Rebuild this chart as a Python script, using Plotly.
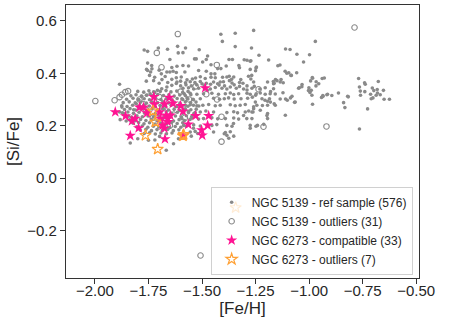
import plotly.graph_objects as go

# ---------------- data ----------------
# NGC 5139 reference sample: ([Fe/H], [Si/Fe])
ref_sample = [
    # sparse upper part
    (-1.770, 0.489), (-1.754, 0.484), (-1.704, 0.497), (-1.661, 0.492), (-1.614, 0.503),
    (-1.611, 0.478), (-1.650, 0.453), (-1.754, 0.439), (-1.735, 0.430), (-1.412, 0.549),
    (-1.345, 0.553), (-1.259, 0.564), (-1.405, 0.522), (-1.345, 0.502), (-1.269, 0.497),
    (-1.513, 0.490), (-1.577, 0.497), (-1.589, 0.479), (-1.234, 0.469), (-1.189, 0.451),
    (-1.474, 0.466), (-1.480, 0.453), (-1.535, 0.455), (-1.527, 0.455), (-1.497, 0.443),
    (-1.374, 0.453), (-1.358, 0.453), (-1.303, 0.452), (-1.290, 0.450), (-1.272, 0.448),
    (-1.146, 0.429), (-1.275, 0.446), (-1.136, 0.432), (-1.458, 0.433),
    # band 0.40 - 0.44
    (-1.759, 0.415), (-1.734, 0.417), (-1.641, 0.422), (-1.617, 0.427), (-1.664, 0.405),
    (-1.650, 0.405), (-1.635, 0.408), (-1.620, 0.403), (-1.387, 0.428), (-1.328, 0.430),
    (-1.325, 0.421), (-1.275, 0.415), (-1.248, 0.420), (-1.589, 0.430), (-1.580, 0.405),
    (-1.563, 0.428), (-1.516, 0.411), (-1.480, 0.408), (-1.458, 0.398), (-1.440, 0.398),
    (-1.427, 0.418), (-1.412, 0.418), (-1.246, 0.424), (-1.250, 0.410), (-1.754, 0.411),
    (-1.740, 0.405), (-1.700, 0.412), (-1.690, 0.398),
    # band 0.36 - 0.40
    (-1.885, 0.358), (-1.721, 0.385), (-1.726, 0.372), (-1.687, 0.376), (-1.641, 0.377),
    (-1.620, 0.383), (-1.617, 0.367), (-1.508, 0.387), (-1.485, 0.380), (-1.458, 0.385),
    (-1.438, 0.383), (-1.404, 0.385), (-1.384, 0.386), (-1.373, 0.389), (-1.352, 0.386),
    (-1.319, 0.376), (-1.283, 0.389), (-1.272, 0.378), (-1.570, 0.375), (-1.545, 0.378),
    (-1.530, 0.382), (-1.500, 0.360), (-1.480, 0.362), (-1.460, 0.358), (-1.427, 0.360),
    (-1.400, 0.368), (-1.372, 0.372), (-1.362, 0.377), (-1.600, 0.370), (-1.597, 0.386),
    (-1.268, 0.392), (-1.577, 0.364), (-1.555, 0.368), (-1.533, 0.365), (-1.508, 0.369),
    (-1.446, 0.367), (-1.415, 0.367), (-1.360, 0.363), (-1.325, 0.365), (-1.309, 0.362),
    (-1.290, 0.352), (-1.259, 0.367), (-1.194, 0.367), (-1.166, 0.360), (-1.700, 0.362),
    (-1.672, 0.388), (-1.660, 0.365), (-1.760, 0.370), (-1.745, 0.392),
    # band 0.33 - 0.36
    (-1.589, 0.343), (-1.563, 0.345), (-1.539, 0.340), (-1.516, 0.343), (-1.461, 0.340),
    (-1.438, 0.346), (-1.407, 0.343), (-1.384, 0.340), (-1.368, 0.348), (-1.340, 0.343),
    (-1.306, 0.340), (-1.267, 0.343), (-1.256, 0.350), (-1.166, 0.341), (-1.708, 0.335),
    (-1.688, 0.341), (-1.664, 0.348), (-1.641, 0.354), (-1.620, 0.361), (-1.742, 0.322),
    (-1.760, 0.316), (-1.781, 0.312), (-1.796, 0.299), (-1.807, 0.284), (-1.819, 0.261),
    (-1.843, 0.236), (-1.726, 0.329), (-1.490, 0.352), (-1.475, 0.335), (-1.420, 0.355),
    (-1.395, 0.352), (-1.350, 0.356), (-1.325, 0.350), (-1.290, 0.336), (-1.600, 0.352),
    (-1.575, 0.356), (-1.550, 0.352), (-1.525, 0.356),
    # mid zone (zoom rows)
    (-1.583, 0.322), (-1.555, 0.324), (-1.524, 0.320), (-1.493, 0.322), (-1.454, 0.324),
    (-1.423, 0.320), (-1.391, 0.322), (-1.368, 0.325), (-1.352, 0.319), (-1.329, 0.322),
    (-1.290, 0.324), (-1.275, 0.320), (-1.247, 0.322), (-1.228, 0.325), (-1.205, 0.320),
    (-1.182, 0.322), (-1.158, 0.321), (-1.594, 0.303), (-1.570, 0.306), (-1.542, 0.301),
    (-1.508, 0.303), (-1.446, 0.305), (-1.418, 0.301), (-1.396, 0.303), (-1.376, 0.306),
    (-1.350, 0.302), (-1.318, 0.303), (-1.287, 0.305), (-1.220, 0.303), (-1.185, 0.303),
    (-1.135, 0.302), (-1.578, 0.278), (-1.555, 0.280), (-1.524, 0.276), (-1.496, 0.278),
    (-1.469, 0.281), (-1.438, 0.276), (-1.415, 0.278), (-1.368, 0.280), (-1.345, 0.276),
    (-1.322, 0.278), (-1.298, 0.281), (-1.259, 0.272), (-1.244, 0.278), (-1.194, 0.278),
    (-1.158, 0.278), (-1.586, 0.252), (-1.563, 0.255), (-1.532, 0.250), (-1.508, 0.252),
    (-1.482, 0.256), (-1.446, 0.252), (-1.384, 0.250), (-1.352, 0.253), (-1.334, 0.249),
    (-1.298, 0.252), (-1.282, 0.256), (-1.267, 0.252), (-1.594, 0.227), (-1.547, 0.229),
    (-1.516, 0.225), (-1.493, 0.227), (-1.454, 0.230), (-1.427, 0.226), (-1.391, 0.227),
    (-1.352, 0.229), (-1.329, 0.225), (-1.267, 0.227), (-1.194, 0.227), (-1.111, 0.240),
    (-1.586, 0.201), (-1.539, 0.203), (-1.508, 0.199), (-1.454, 0.201), (-1.431, 0.204),
    (-1.384, 0.201), (-1.360, 0.198), (-1.275, 0.201), (-1.241, 0.201), (-1.555, 0.176),
    (-1.532, 0.178), (-1.446, 0.176), (-1.391, 0.174), (-1.368, 0.177), (-1.384, 0.163),
    (-1.352, 0.160), (-1.396, 0.169), (-1.375, 0.152), (-1.353, 0.208), (-1.306, 0.239),
    (-1.291, 0.227), (-1.259, 0.265), (-1.228, 0.259), (-1.197, 0.239), (-1.265, 0.309),
    (-1.250, 0.316), (-1.251, 0.290), (-1.206, 0.297), (-1.194, 0.293), (-1.181, 0.290),
    (-1.163, 0.284), (-1.218, 0.277), (-1.262, 0.252), (-1.194, 0.246), (-1.248, 0.198),
    (-1.212, 0.205), (-1.275, 0.190), (-1.230, 0.340), (-1.205, 0.345), (-1.180, 0.330),
    # dense core
    (-1.800, 0.331), (-1.772, 0.328), (-1.748, 0.333), (-1.721, 0.327), (-1.695, 0.331),
    (-1.668, 0.334), (-1.645, 0.329), (-1.618, 0.332), (-1.590, 0.327), (-1.565, 0.331),
    (-1.832, 0.314), (-1.808, 0.318), (-1.783, 0.313), (-1.757, 0.317), (-1.733, 0.314),
    (-1.707, 0.319), (-1.680, 0.315), (-1.655, 0.318), (-1.630, 0.313), (-1.604, 0.317),
    (-1.578, 0.315), (-1.552, 0.318), (-1.852, 0.301), (-1.822, 0.305), (-1.796, 0.300),
    (-1.770, 0.303), (-1.745, 0.299), (-1.718, 0.304), (-1.692, 0.300), (-1.667, 0.303),
    (-1.641, 0.299), (-1.616, 0.304), (-1.590, 0.300), (-1.566, 0.302), (-1.540, 0.299),
    (-1.868, 0.288), (-1.840, 0.291), (-1.812, 0.287), (-1.786, 0.290), (-1.760, 0.286),
    (-1.735, 0.291), (-1.708, 0.288), (-1.683, 0.291), (-1.656, 0.287), (-1.630, 0.290),
    (-1.603, 0.286), (-1.578, 0.291), (-1.553, 0.288), (-1.528, 0.290), (-1.875, 0.276),
    (-1.850, 0.273), (-1.824, 0.278), (-1.798, 0.274), (-1.772, 0.278), (-1.746, 0.275),
    (-1.720, 0.272), (-1.696, 0.277), (-1.670, 0.274), (-1.644, 0.278), (-1.618, 0.273),
    (-1.592, 0.277), (-1.566, 0.274), (-1.540, 0.278), (-1.515, 0.275), (-1.862, 0.262),
    (-1.836, 0.265), (-1.810, 0.260), (-1.784, 0.263), (-1.758, 0.259), (-1.733, 0.264),
    (-1.707, 0.261), (-1.681, 0.265), (-1.656, 0.260), (-1.630, 0.263), (-1.604, 0.259),
    (-1.578, 0.264), (-1.552, 0.261), (-1.527, 0.263), (-1.872, 0.249), (-1.846, 0.252),
    (-1.820, 0.247), (-1.794, 0.251), (-1.769, 0.248), (-1.744, 0.252), (-1.718, 0.246),
    (-1.692, 0.250), (-1.667, 0.253), (-1.641, 0.248), (-1.615, 0.251), (-1.590, 0.247),
    (-1.563, 0.250), (-1.538, 0.246), (-1.855, 0.236), (-1.829, 0.233), (-1.804, 0.238),
    (-1.778, 0.234), (-1.752, 0.237), (-1.727, 0.233), (-1.701, 0.238), (-1.676, 0.235),
    (-1.650, 0.232), (-1.624, 0.237), (-1.598, 0.234), (-1.573, 0.238), (-1.548, 0.235),
    (-1.838, 0.222), (-1.812, 0.219), (-1.787, 0.224), (-1.762, 0.220), (-1.736, 0.223),
    (-1.710, 0.219), (-1.684, 0.224), (-1.659, 0.221), (-1.633, 0.218), (-1.607, 0.223),
    (-1.582, 0.220), (-1.556, 0.224), (-1.822, 0.209), (-1.796, 0.212), (-1.771, 0.207),
    (-1.745, 0.211), (-1.719, 0.206), (-1.693, 0.210), (-1.668, 0.207), (-1.642, 0.212),
    (-1.616, 0.208), (-1.590, 0.211), (-1.565, 0.207), (-1.804, 0.196), (-1.779, 0.199),
    (-1.753, 0.194), (-1.727, 0.198), (-1.702, 0.195), (-1.676, 0.199), (-1.651, 0.193),
    (-1.625, 0.197), (-1.599, 0.194), (-1.574, 0.198), (-1.788, 0.183), (-1.762, 0.186),
    (-1.736, 0.181), (-1.710, 0.185), (-1.685, 0.182), (-1.660, 0.186), (-1.634, 0.181),
    (-1.608, 0.184), (-1.770, 0.170), (-1.745, 0.173), (-1.718, 0.168), (-1.692, 0.172),
    (-1.666, 0.169), (-1.640, 0.172),
    # sparse lower edge
    (-1.750, 0.144), (-1.835, 0.134), (-1.667, 0.106), (-1.633, 0.131), (-1.698, 0.159),
    (-1.720, 0.145), (-1.800, 0.150), (-1.610, 0.150), (-1.550, 0.160), (-1.520, 0.170),
    (-1.540, 0.190), (-1.885, 0.252), (-1.866, 0.246), (-1.882, 0.223), (-1.854, 0.218),
    (-1.874, 0.271),
    # right-hand group
    (-1.112, 0.408), (-1.104, 0.400), (-1.095, 0.402), (-1.157, 0.376), (-1.167, 0.369),
    (-1.163, 0.362), (-1.121, 0.364), (-1.122, 0.326), (-1.110, 0.302), (-1.087, 0.306),
    (-1.068, 0.289), (-1.049, 0.343), (-1.034, 0.349), (-0.993, 0.371), (-0.984, 0.381),
    (-0.939, 0.380), (-1.001, 0.345), (-0.996, 0.327), (-0.987, 0.316), (-0.990, 0.335),
    (-0.984, 0.282), (-0.942, 0.308), (-0.936, 0.315), (-0.917, 0.318), (-0.894, 0.315),
    (-0.863, 0.325), (-0.839, 0.288), (-0.833, 0.269), (-0.817, 0.310), (-0.769, 0.380),
    (-0.741, 0.364), (-0.738, 0.358), (-0.765, 0.348), (-0.761, 0.332), (-0.760, 0.316),
    (-0.740, 0.330), (-0.713, 0.320), (-0.710, 0.303), (-0.702, 0.306), (-0.682, 0.338),
    (-0.681, 0.325), (-0.677, 0.369), (-0.687, 0.316), (-0.653, 0.335), (-0.650, 0.301),
    (-0.625, 0.301), (-0.727, 0.264), (-0.765, 0.187), (-0.668, 0.318), (-0.698, 0.334),
    (-1.083, 0.392), (-0.967, 0.368), (-0.929, 0.382), (-0.705, 0.344), (-1.080, 0.312),
    (-1.065, 0.290), (-0.935, 0.312), (-0.914, 0.320), (-0.820, 0.312), (-1.102, 0.297),
    (-1.057, 0.473), (-0.971, 0.522), (-1.110, 0.493), (-1.089, 0.491), (-0.998, 0.471),
    (-1.026, 0.443), (-0.985, 0.384), (-1.033, 0.357), (-1.046, 0.345), (-1.003, 0.334),
    (-0.968, 0.352), (-1.150, 0.372), (-1.131, 0.376), (-1.135, 0.367), (-1.085, 0.392),
    (-1.058, 0.402), (-0.955, 0.360),
]

# NGC 5139 outliers
out5139_feh = [-1.998, -1.908, -1.885, -1.874, -1.858, -1.845, -1.792, -1.711, -1.689, -1.613,
               -1.431, -1.236, -1.213, -1.409, -1.409, -0.919, -0.788, -1.507, -1.776, -1.700,
               -1.730, -1.620, -1.560, -1.480, -1.650, -1.760, -1.530, -1.430, -1.580, -1.680,
               -1.600]
out5139_sife = [0.294, 0.297, 0.309, 0.318, 0.328, 0.332, 0.300, 0.478, 0.423, 0.550,
                0.432, 0.339, 0.196, 0.139, 0.234, 0.197, 0.575, -0.296, 0.283, 0.310,
                0.230, 0.260, 0.300, 0.320, 0.200, 0.260, 0.350, 0.300, 0.230, 0.270,
                0.330]

# NGC 6273 compatible
comp_feh = [-1.905, -1.857, -1.835, -1.827, -1.812, -1.796, -1.792, -1.773, -1.757, -1.725,
            -1.723, -1.698, -1.694, -1.684, -1.676, -1.673, -1.675, -1.667, -1.661, -1.653,
            -1.648, -1.636, -1.600, -1.589, -1.589, -1.564, -1.530, -1.502, -1.499, -1.485,
            -1.474, -1.469, -1.660]
comp_sife = [0.252, 0.237, 0.162, 0.218, 0.227, 0.191, 0.270, 0.270, 0.248, 0.310,
             0.282, 0.252, 0.227, 0.201, 0.190, 0.149, 0.282, 0.239, 0.227, 0.307,
             0.239, 0.285, 0.276, 0.255, 0.163, 0.205, 0.238, 0.183, 0.163, 0.344,
             0.201, 0.238, 0.215]

# NGC 6273 outliers
out6273_feh = [-1.764, -1.707, -1.718, -1.729, -1.589, -1.586, -1.343]
out6273_sife = [0.163, 0.110, 0.214, 0.256, 0.161, 0.166, -0.113]

labels = ["NGC 5139 - ref sample (576)", "NGC 5139 - outliers (31)",
          "NGC 6273 - compatible (33)", "NGC 6273 - outliers (7)"]
x_ticks = [-2.00, -1.75, -1.50, -1.25, -1.00, -0.75, -0.50]
x_ticklabels = ["\u22122.00", "\u22121.75", "\u22121.50", "\u22121.25", "\u22121.00",
                "\u22120.75", "\u22120.50"]
y_ticks = [-0.2, 0.0, 0.2, 0.4, 0.6]
y_ticklabels = ["\u22120.2", "0.0", "0.2", "0.4", "0.6"]

ref_feh = [p[0] for p in ref_sample]
ref_sife = [p[1] for p in ref_sample]

# ---------------- figure ----------------
fig = go.Figure()
fig.add_trace(go.Scatter(x=ref_feh, y=ref_sife, mode="markers", name=labels[0],
                         marker=dict(symbol="circle", size=3.6, color="#8a8a8a",
                                     line=dict(width=0))))
fig.add_trace(go.Scatter(x=out5139_feh, y=out5139_sife, mode="markers", name=labels[1],
                         marker=dict(symbol="circle-open", size=5.5, color="#8a8a8a",
                                     line=dict(width=1.1))))
fig.add_trace(go.Scatter(x=comp_feh, y=comp_sife, mode="markers", name=labels[2],
                         marker=dict(symbol="star", size=8.5, color="#ff1493",
                                     line=dict(width=0))))
fig.add_trace(go.Scatter(x=out6273_feh, y=out6273_sife, mode="markers", name=labels[3],
                         marker=dict(symbol="star-open", size=8.5, color="#ffa033",
                                     line=dict(width=1.2))))

FONT = "Liberation Sans, Arial, sans-serif"
TXT = "#262626"

fig.update_layout(
    width=449, height=335,
    margin=dict(l=66, r=30, t=5, b=57, autoexpand=False),
    paper_bgcolor="white", plot_bgcolor="white",
    font=dict(family=FONT, size=15, color=TXT),
    showlegend=True,
    xaxis=dict(
        range=[-2.135, -0.487], tickmode="array", tickvals=x_ticks, ticktext=x_ticklabels,
        showline=True, linecolor="#333333", linewidth=1.3, mirror=True,
        ticks="outside", ticklen=5, tickwidth=1.2, tickcolor="#333333",
        showgrid=False, zeroline=False, ticklabelstandoff=-6,
        tickfont=dict(family=FONT, size=15, color=TXT),
        title=dict(text="[Fe/H]", font=dict(family=FONT, size=17, color=TXT), standoff=3),
    ),
    yaxis=dict(
        range=[-0.382, 0.661], tickmode="array", tickvals=y_ticks, ticktext=y_ticklabels,
        showline=True, linecolor="#333333", linewidth=1.3, mirror=True,
        ticks="outside", ticklen=5, tickwidth=1.2, tickcolor="#333333",
        showgrid=False, zeroline=False,
        tickfont=dict(family=FONT, size=15, color=TXT),
        title=dict(text="[Si/Fe]", font=dict(family=FONT, size=17, color=TXT), standoff=3),
    ),
    legend=dict(x=0.982, y=0.012, xanchor="right", yanchor="bottom",
                bgcolor="rgba(255,255,255,0.8)", bordercolor="#d0d0d0", borderwidth=1,
                font=dict(family=FONT, size=12, color=TXT),
                tracegroupgap=0, itemsizing="trace"),
)

fig.write_html("out.html", config={"displayModeBar": False},
               post_script="document.body.style.margin='0px';")
